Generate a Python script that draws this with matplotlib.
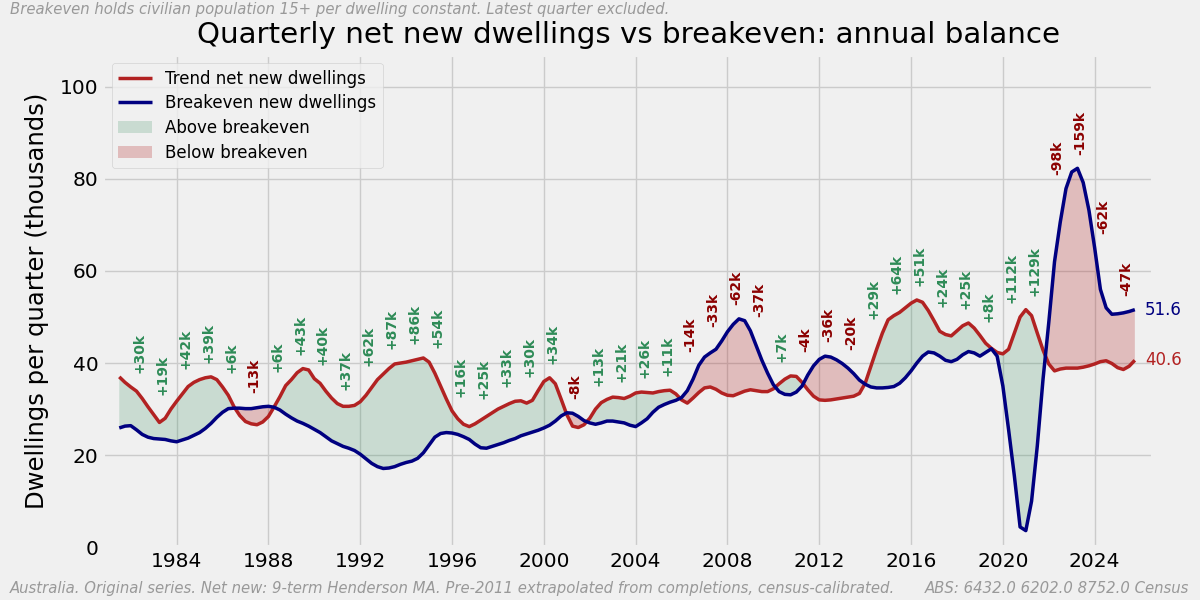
import numpy as np
import matplotlib.pyplot as plt
from matplotlib.patches import Patch

# quarterly dates, 1981 Q3 .. 2025 Q4 (as year + (q-1)/4)
start_year = 1981.5

# trend net new dwellings (thousands per quarter)
net_new = [
    37.0, 35.8,
    34.8, 33.9, 32.3, 30.5,
    28.8, 27.1, 28.0, 30.0,
    31.7, 33.3, 34.9, 35.8,
    36.4, 36.8, 37.0, 36.4,
    34.8, 33.0, 30.5, 28.6,
    27.3, 26.8, 26.6, 27.2,
    28.4, 30.5, 32.7, 35.1,
    36.4, 37.9, 38.8, 38.5,
    36.6, 35.6, 33.9, 32.4,
    31.2, 30.6, 30.6, 30.8,
    31.6, 33.0, 34.7, 36.4,
    37.6, 38.8, 39.8, 40.0,
    40.2, 40.5, 40.8, 41.1,
    40.2, 37.8, 35.0, 32.2,
    29.6, 27.9, 26.7, 26.2,
    26.8, 27.6, 28.4, 29.2,
    30.0, 30.6, 31.2, 31.7,
    31.8, 31.3, 31.9, 34.0,
    36.0, 36.8, 35.5, 32.2,
    28.8, 26.3, 26.0, 26.6,
    28.0, 30.0, 31.4, 32.1,
    32.6, 32.5, 32.3, 32.8,
    33.5, 33.7, 33.6, 33.5,
    33.8, 34.0, 34.1, 33.3,
    32.0, 31.3, 32.4, 33.6,
    34.6, 34.8, 34.3, 33.5,
    33.0, 32.9, 33.4, 33.9,
    34.2, 34.0, 33.8, 33.8,
    34.4, 35.5, 36.5, 37.2,
    37.1, 35.8, 34.2, 32.8,
    32.0, 31.9, 32.0, 32.2,
    32.4, 32.6, 32.8, 33.4,
    35.6, 39.3, 43.0, 46.5,
    49.4, 50.3, 51.0, 52.0,
    53.0, 53.7, 53.2, 51.4,
    49.2, 46.9, 46.2, 45.9,
    47.0, 48.1, 48.7, 47.6,
    46.0, 44.3, 43.2, 42.3,
    42.0, 43.0, 46.5, 50.0,
    51.6, 50.3, 46.5, 42.8,
    39.8, 38.3, 38.7, 38.9,
    38.9, 38.9, 39.1, 39.4,
    39.8, 40.3, 40.5, 39.9,
    39.0, 38.6, 39.3, 40.6,
]

# breakeven new dwellings (thousands per quarter)
breakeven = [
    25.9, 26.3,
    26.4, 25.5, 24.5, 23.9,
    23.6, 23.5, 23.4, 23.1,
    22.9, 23.3, 23.7, 24.3,
    24.9, 25.8, 26.9, 28.2,
    29.3, 30.1, 30.2, 30.2,
    30.1, 30.1, 30.3, 30.5,
    30.6, 30.4, 29.8, 28.9,
    28.1, 27.4, 26.9, 26.3,
    25.6, 24.9, 24.0, 23.1,
    22.5, 21.9, 21.5, 21.0,
    20.2, 19.2, 18.2, 17.5,
    17.1, 17.2, 17.5, 18.0,
    18.4, 18.7, 19.3, 20.5,
    22.2, 23.9, 24.7, 24.9,
    24.8, 24.5, 24.0, 23.4,
    22.4, 21.6, 21.5, 21.9,
    22.3, 22.7, 23.2, 23.6,
    24.2, 24.6, 25.0, 25.4,
    25.9, 26.5, 27.4, 28.5,
    29.2, 29.1, 28.4, 27.5,
    27.0, 26.7, 27.0, 27.4,
    27.4, 27.2, 27.0, 26.5,
    26.2, 27.0, 27.9, 29.3,
    30.4, 31.0, 31.5, 31.9,
    32.5, 34.0, 36.5, 39.5,
    41.3, 42.2, 43.0, 44.8,
    46.8, 48.4, 49.6, 49.2,
    47.0, 43.8, 40.6, 37.8,
    35.3, 33.8, 33.2, 33.1,
    33.7, 35.0, 37.4, 39.4,
    40.8, 41.5, 41.3, 40.7,
    39.9, 38.9, 37.7, 36.3,
    35.4, 34.8, 34.6, 34.6,
    34.7, 34.9, 35.6, 36.8,
    38.3, 40.0, 41.5, 42.4,
    42.2, 41.5, 40.6, 40.3,
    40.8, 41.8, 42.5, 42.2,
    41.5, 42.3, 43.1, 41.5,
    35.0, 25.5, 15.5, 4.4,
    3.6, 10.0, 22.0, 36.5,
    48.8, 62.0, 70.6, 77.9,
    81.5, 82.3, 79.2, 73.2,
    65.0, 56.0, 52.0, 50.6,
    50.7, 50.9, 51.2, 51.6,
]

# annual balance labels (thousands), 1982..2025
label_years = list(range(1982, 2026))
balance_k = [30, 19, 42, 39, 6, -13, 6, 43, 40, 37, 62, 87, 86, 54, 16, 25, 33, 30,
             34, -8, 13, 21, 26, 11, -14, -33, -62, -37, 7, -4, -36, -20, 29, 64,
             51, 24, 25, 8, 112, 129, -98, -159, -62, -47]

net = np.array(net_new)
be = np.array(breakeven)
t = start_year + 0.25 * np.arange(len(net))

plt.style.use('fivethirtyeight')
fig, ax = plt.subplots(figsize=(12, 6), dpi=100)
fig.patch.set_facecolor('#f0f0f0')
fig.subplots_adjust(left=0.086, right=0.961, bottom=0.088, top=0.909)

red = '#b22222'
blue = '#000080'
green_txt = '#2e8b57'
red_txt = '#8b0000'

ax.fill_between(t, net, be, where=net >= be, interpolate=True,
                color='#2e8b57', alpha=0.2, linewidth=0)
ax.fill_between(t, net, be, where=net < be, interpolate=True,
                color=red, alpha=0.25, linewidth=0)
ax.plot(t, net, color=red, lw=2.5)
ax.plot(t, be, color=blue, lw=2.5)

for yr, val in zip(label_years, balance_k):
    m = t.astype(int) == yr
    xm = t[m].mean()
    ym = max(net[m].max(), be[m].max()) + 3
    txt = f'+{val}k' if val > 0 else f'{val}k'
    ax.text(xm, ym, txt, rotation=90, ha='center', va='bottom', fontsize=10,
            fontweight='bold', color=green_txt if val > 0 else red_txt)

ax.text(t[-1] + 0.45, be[-1], f'{be[-1]:.1f}', color=blue, fontsize=12, va='center')
ax.text(t[-1] + 0.45, net[-1], f'{net[-1]:.1f}', color=red, fontsize=12, va='center')

ax.set_xlim(1980.8, 2026.55)
ax.set_ylim(0, 107)
ax.set_xticks(range(1984, 2025, 4))
ax.set_yticks(range(0, 101, 20))
ax.tick_params(labelsize=14.5)
ax.set_ylabel('Dwellings per quarter (thousands)', fontsize=17.5, labelpad=8)
ax.set_title('Quarterly net new dwellings vs breakeven: annual balance', fontsize=21.2, pad=8)

handles = [
    plt.Line2D([], [], color=red, lw=2.5, label='Trend net new dwellings'),
    plt.Line2D([], [], color=blue, lw=2.5, label='Breakeven new dwellings'),
    Patch(facecolor='#2e8b57', alpha=0.2, label='Above breakeven'),
    Patch(facecolor=red, alpha=0.25, label='Below breakeven'),
]
ax.legend(handles=handles, loc='upper left', fontsize=12, labelspacing=0.4)

fig.text(0.008, 0.997, 'Breakeven holds civilian population 15+ per dwelling constant. Latest quarter excluded.',
         ha='left', va='top', fontsize=10.7, style='italic', color='#999999')
fig.text(0.008, 0.007, 'Australia. Original series. Net new: 9-term Henderson MA. Pre-2011 extrapolated from completions, census-calibrated.',
         ha='left', va='bottom', fontsize=10.7, style='italic', color='#999999')
fig.text(0.991, 0.007, 'ABS: 6432.0 6202.0 8752.0 Census',
         ha='right', va='bottom', fontsize=10.7, style='italic', color='#999999')

fig.savefig('out.png', dpi=100, facecolor=fig.get_facecolor())
